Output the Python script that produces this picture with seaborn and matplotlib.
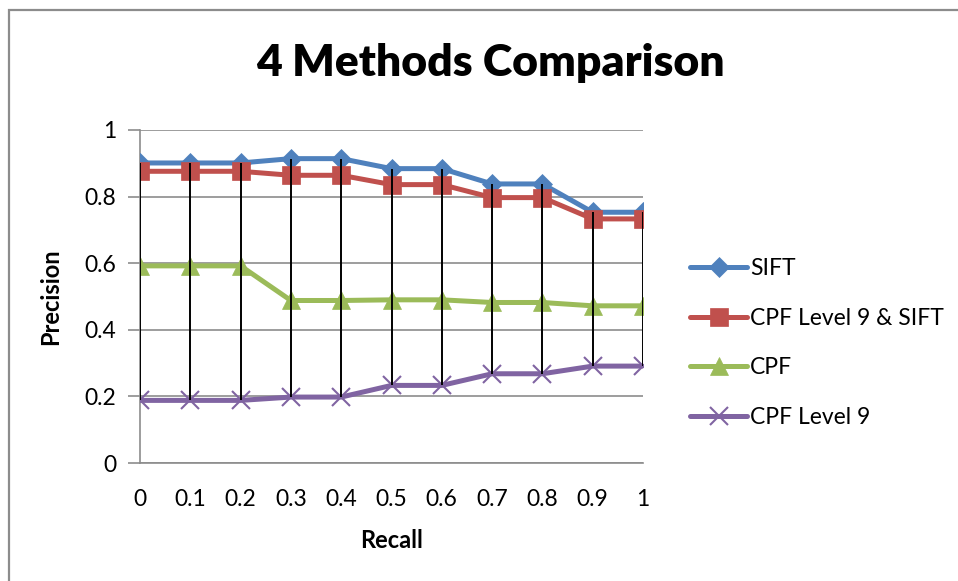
import numpy as np
import pandas as pd
import matplotlib
matplotlib.use("Agg")
import matplotlib.pyplot as plt
from matplotlib.patches import Rectangle
import seaborn as sns

# values
recall = [0, 0.1, 0.2, 0.3, 0.4, 0.5, 0.6, 0.7, 0.8, 0.9, 1.0]
sift = [0.901, 0.901, 0.901, 0.914, 0.914, 0.884, 0.884, 0.838, 0.838, 0.753, 0.753]
cpf9_sift = [0.876, 0.876, 0.876, 0.864, 0.864, 0.836, 0.836, 0.797, 0.797, 0.733, 0.733]
cpf = [0.592, 0.592, 0.592, 0.488, 0.488, 0.490, 0.490, 0.482, 0.482, 0.472, 0.472]
cpf9 = [0.188, 0.188, 0.188, 0.198, 0.198, 0.233, 0.233, 0.268, 0.268, 0.291, 0.291]

series_names = ["SIFT", "CPF Level 9 & SIFT", "CPF", "CPF Level 9"]
series_values = [sift, cpf9_sift, cpf, cpf9]
colors = ["#4F81BD", "#C0504D", "#9BBB59", "#8064A2"]
markers = ["D", "s", "^", "x"]
marker_sizes = [10, 13, 13, 13]

sns.set_style("white", {"text.color": "black", "axes.labelcolor": "black",
                        "xtick.color": "black", "ytick.color": "black"})
plt.rcParams["font.family"] = ["Lato", "DejaVu Sans"]

fig = plt.figure(figsize=(9.58, 5.81), dpi=100)
ax = fig.add_axes([140 / 958, 1 - 463 / 581, 503 / 958, 333 / 581])

# gray outer border (right and bottom edges are cropped in the reference)
fig.patches.append(Rectangle((9 / 958, -0.1), 1.2, 1.1 - 10 / 581,
                             transform=fig.transFigure, fill=False,
                             edgecolor="#8c8c8c", linewidth=1.6))

for name, vals, c, m, ms in zip(series_names, series_values, colors, markers, marker_sizes):
    sns.lineplot(x=recall, y=vals, ax=ax, color=c, marker=m, markersize=ms,
                 markeredgecolor=c, markeredgewidth=1.5 if m == "x" else 0.5,
                 linewidth=3.6, label=name, zorder=3)

# high-low lines
table = np.array(series_values)
ax.vlines(recall, table.min(axis=0), table.max(axis=0), color="black",
          linewidth=1.4, zorder=4)

ax.set_xlim(0, 1)
ax.set_ylim(0, 1)
ax.set_xticks(recall)
ax.set_xticklabels(["0", "0.1", "0.2", "0.3", "0.4", "0.5", "0.6", "0.7", "0.8", "0.9", "1"])
ax.set_yticks([0, 0.2, 0.4, 0.6, 0.8, 1])
ax.set_yticklabels(["0", "0.2", "0.4", "0.6", "0.8", "1"])
ax.yaxis.grid(True, color="#8c8c8c", linewidth=1.2)
ax.set_axisbelow(True)
for side in ["top", "right"]:
    ax.spines[side].set_visible(False)
for side in ["left", "bottom"]:
    ax.spines[side].set_color("#8c8c8c")
    ax.spines[side].set_linewidth(1.2)
    ax.spines[side].set_clip_on(False)
ax.tick_params(axis="y", which="both", left=True, length=9, width=1.2,
               color="#8c8c8c", labelcolor="black", labelsize=16.5, pad=8)
ax.tick_params(axis="x", bottom=False, labelcolor="black", labelsize=16.5, pad=15)

ax.set_xlabel("Recall", fontsize=17, fontweight="bold", labelpad=14, color="black")
ax.set_ylabel("Precision", fontsize=17, fontweight="bold", labelpad=16, color="black")
fig.text(490 / 958, 1 - 63 / 581, "4 Methods Comparison", fontsize=32,
         fontweight="heavy", ha="center", va="center", color="black")

leg = ax.legend(loc="center left", bbox_to_anchor=(1.075, 0.36), frameon=False,
                fontsize=16.5, handlelength=2.5, handletextpad=0.12,
                labelspacing=1.25, borderaxespad=0, labelcolor="black")

fig.savefig("out.png", dpi=100)
